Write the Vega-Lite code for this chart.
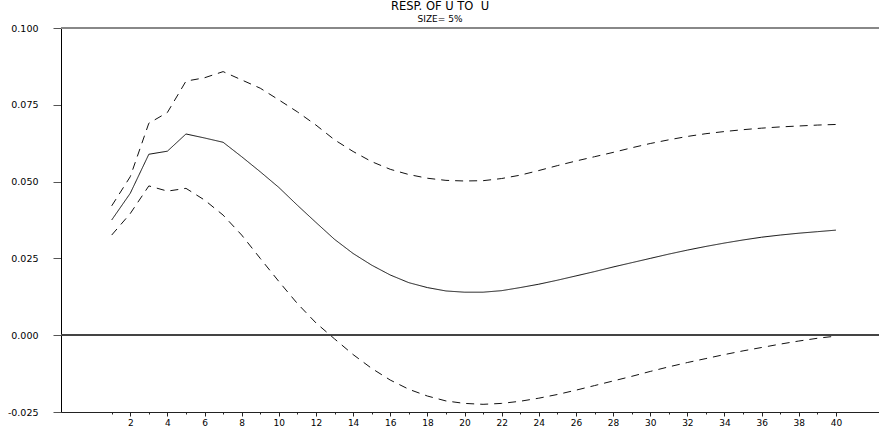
{
  "$schema": "https://vega.github.io/schema/vega-lite/v6.json",
  "width": 818,
  "height": 384,
  "autosize": {"type": "none"},
  "padding": {"left": 61, "top": 28, "right": 0, "bottom": 15},
  "background": "white",
  "config": {"view": {"stroke": null}},
  "title": {
    "text": "RESP. OF U TO \u00a0U",
    "subtitle": "SIZE= 5%",
    "anchor": "middle",
    "frame": "group",
    "dx": -30,
    "font": "DejaVu Sans",
    "fontSize": 11.5,
    "fontWeight": "normal",
    "color": "black",
    "subtitleFont": "DejaVu Sans",
    "subtitleFontSize": 9,
    "subtitleColor": "black",
    "subtitlePadding": 3,
    "offset": -1
  },
  "data": {"values": [
    {"h":1,"s":"est","v":0.0375},{"h":2,"s":"est","v":0.0462},{"h":3,"s":"est","v":0.0589},{"h":4,"s":"est","v":0.0599},{"h":5,"s":"est","v":0.0655},{"h":6,"s":"est","v":0.0642},{"h":7,"s":"est","v":0.0628},{"h":8,"s":"est","v":0.0581},{"h":9,"s":"est","v":0.0532},{"h":10,"s":"est","v":0.0481},
    {"h":11,"s":"est","v":0.0423},{"h":12,"s":"est","v":0.0367},{"h":13,"s":"est","v":0.0312},{"h":14,"s":"est","v":0.0266},{"h":15,"s":"est","v":0.0228},{"h":16,"s":"est","v":0.0196},{"h":17,"s":"est","v":0.0171},{"h":18,"s":"est","v":0.0155},{"h":19,"s":"est","v":0.0144},{"h":20,"s":"est","v":0.0140},
    {"h":21,"s":"est","v":0.0140},{"h":22,"s":"est","v":0.0145},{"h":23,"s":"est","v":0.0155},{"h":24,"s":"est","v":0.0166},{"h":25,"s":"est","v":0.0179},{"h":26,"s":"est","v":0.0193},{"h":27,"s":"est","v":0.0207},{"h":28,"s":"est","v":0.0222},{"h":29,"s":"est","v":0.0236},{"h":30,"s":"est","v":0.0250},
    {"h":31,"s":"est","v":0.0264},{"h":32,"s":"est","v":0.0277},{"h":33,"s":"est","v":0.0289},{"h":34,"s":"est","v":0.0300},{"h":35,"s":"est","v":0.0310},{"h":36,"s":"est","v":0.0319},{"h":37,"s":"est","v":0.0326},{"h":38,"s":"est","v":0.0332},{"h":39,"s":"est","v":0.0337},{"h":40,"s":"est","v":0.0342},
    {"h":1,"s":"upper","v":0.0421},{"h":2,"s":"upper","v":0.0516},{"h":3,"s":"upper","v":0.0690},{"h":4,"s":"upper","v":0.0725},{"h":5,"s":"upper","v":0.0827},{"h":6,"s":"upper","v":0.0838},{"h":7,"s":"upper","v":0.0858},{"h":8,"s":"upper","v":0.0831},{"h":9,"s":"upper","v":0.0804},{"h":10,"s":"upper","v":0.0766},
    {"h":11,"s":"upper","v":0.0727},{"h":12,"s":"upper","v":0.0684},{"h":13,"s":"upper","v":0.0636},{"h":14,"s":"upper","v":0.0598},{"h":15,"s":"upper","v":0.0565},{"h":16,"s":"upper","v":0.0540},{"h":17,"s":"upper","v":0.0523},{"h":18,"s":"upper","v":0.0511},{"h":19,"s":"upper","v":0.0504},{"h":20,"s":"upper","v":0.0502},
    {"h":21,"s":"upper","v":0.0503},{"h":22,"s":"upper","v":0.0510},{"h":23,"s":"upper","v":0.0521},{"h":24,"s":"upper","v":0.0536},{"h":25,"s":"upper","v":0.0552},{"h":26,"s":"upper","v":0.0567},{"h":27,"s":"upper","v":0.0581},{"h":28,"s":"upper","v":0.0595},{"h":29,"s":"upper","v":0.0610},{"h":30,"s":"upper","v":0.0624},
    {"h":31,"s":"upper","v":0.0636},{"h":32,"s":"upper","v":0.0647},{"h":33,"s":"upper","v":0.0656},{"h":34,"s":"upper","v":0.0663},{"h":35,"s":"upper","v":0.0669},{"h":36,"s":"upper","v":0.0674},{"h":37,"s":"upper","v":0.0678},{"h":38,"s":"upper","v":0.0681},{"h":39,"s":"upper","v":0.0684},{"h":40,"s":"upper","v":0.0686},
    {"h":1,"s":"lower","v":0.0326},{"h":2,"s":"lower","v":0.0396},{"h":3,"s":"lower","v":0.0486},{"h":4,"s":"lower","v":0.0469},{"h":5,"s":"lower","v":0.0478},{"h":6,"s":"lower","v":0.0440},{"h":7,"s":"lower","v":0.0391},{"h":8,"s":"lower","v":0.0326},{"h":9,"s":"lower","v":0.0250},{"h":10,"s":"lower","v":0.0175},
    {"h":11,"s":"lower","v":0.0103},{"h":12,"s":"lower","v":0.0040},{"h":13,"s":"lower","v":-0.0012},{"h":14,"s":"lower","v":-0.0063},{"h":15,"s":"lower","v":-0.0108},{"h":16,"s":"lower","v":-0.0146},{"h":17,"s":"lower","v":-0.0176},{"h":18,"s":"lower","v":-0.0198},{"h":19,"s":"lower","v":-0.0214},{"h":20,"s":"lower","v":-0.0222},
    {"h":21,"s":"lower","v":-0.0225},{"h":22,"s":"lower","v":-0.0222},{"h":23,"s":"lower","v":-0.0215},{"h":24,"s":"lower","v":-0.0205},{"h":25,"s":"lower","v":-0.0193},{"h":26,"s":"lower","v":-0.0179},{"h":27,"s":"lower","v":-0.0164},{"h":28,"s":"lower","v":-0.0149},{"h":29,"s":"lower","v":-0.0134},{"h":30,"s":"lower","v":-0.0118},
    {"h":31,"s":"lower","v":-0.0103},{"h":32,"s":"lower","v":-0.0089},{"h":33,"s":"lower","v":-0.0076},{"h":34,"s":"lower","v":-0.0063},{"h":35,"s":"lower","v":-0.0051},{"h":36,"s":"lower","v":-0.0040},{"h":37,"s":"lower","v":-0.0029},{"h":38,"s":"lower","v":-0.0019},{"h":39,"s":"lower","v":-0.0010},{"h":40,"s":"lower","v":-0.0003}
  ]},
  "layer": [
    {
      "mark": {"type": "rule", "color": "#888", "strokeWidth": 1.5},
      "encoding": {"y": {"datum": 0.1, "type": "quantitative"}}
    },
    {
      "mark": {"type": "rule", "color": "#444", "strokeWidth": 1},
      "encoding": {"y": {"datum": 0, "type": "quantitative"}}
    },
    {
      "mark": {"type": "line", "color": "#111", "strokeWidth": 1, "interpolate": "linear"},
      "encoding": {
        "x": {
          "field": "h", "type": "quantitative",
          "scale": {"domain": [-1.73, 42.32], "nice": false, "zero": false},
          "axis": {
            "title": null,
            "values": [1,2,3,4,5,6,7,8,9,10,11,12,13,14,15,16,17,18,19,20,21,22,23,24,25,26,27,28,29,30,31,32,33,34,35,36,37,38,39,40],
            "labelExpr": "datum.value % 2 === 0 ? datum.label : ''",
            "grid": false,
            "domainColor": "#222",
            "domainWidth": 1,
            "tickColor": "#222",
            "tickSize": {"condition": {"test": "datum.value % 2 === 0", "value": 4}, "value": 2},
            "labelFont": "DejaVu Sans",
            "labelFontSize": 9,
            "labelColor": "black",
            "labelPadding": 2,
            "labelFlush": false,
            "labelOverlap": false
          }
        },
        "y": {
          "field": "v", "type": "quantitative",
          "scale": {"domain": [-0.025, 0.1], "nice": false, "zero": false},
          "axis": {
            "title": null,
            "values": [-0.025, 0, 0.025, 0.05, 0.075, 0.1],
            "labelExpr": "datum.value < 0 ? '-' + format(-datum.value, '.3f') : format(datum.value, '.3f')",
            "grid": false,
            "domainColor": "black",
            "domainWidth": 1,
            "tickColor": "#555",
            "tickSize": 8,
            "labelFont": "DejaVu Sans",
            "labelFontSize": 9.5,
            "labelColor": "black",
            "labelPadding": 15,
            "labelFlush": false,
            "labelOverlap": false
          }
        },
        "detail": {"field": "s", "type": "nominal"},
        "strokeDash": {
          "field": "s", "type": "nominal",
          "scale": {"domain": ["est", "upper", "lower"], "range": [[1, 0], [8, 6], [8, 6]]},
          "legend": null
        }
      }
    }
  ]
}
